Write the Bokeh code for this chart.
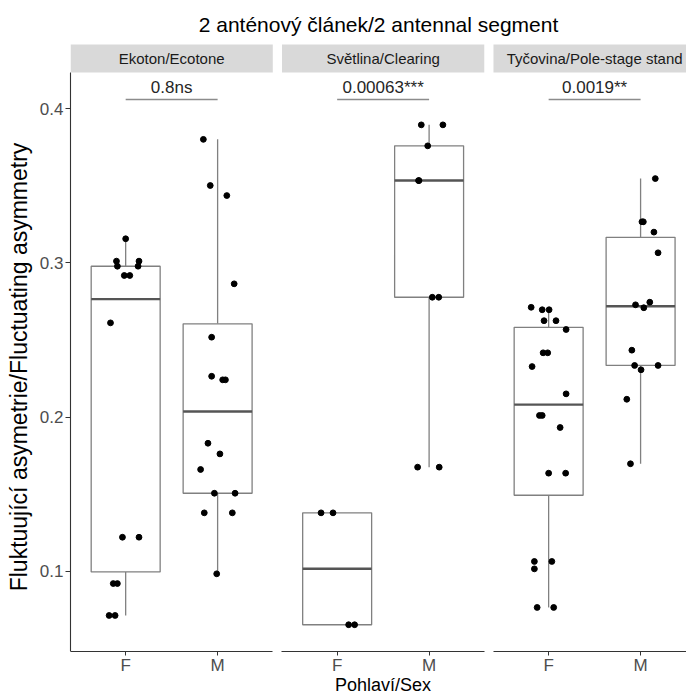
import numpy as np
from bokeh.plotting import figure
from bokeh.models import FixedTicker, LinearAxis, Range1d
from bokeh.embed import file_html
from bokeh.resources import INLINE
from bokeh.core.properties import value

# ---------------- data ----------------
title_text = "2 anténový článek/2 antennal segment"
habitats = ["Ekoton/Ecotone", "Světlina/Clearing", "Tyčovina/Pole-stage stand"]
sexes = ["F", "M"]
p_labels = ["0.8ns", "0.00063***", "0.0019**"]
y_ticks = [0.1, 0.2, 0.3, 0.4]
y_title = "Fluktuující asymetrie/Fluctuating asymmetry"
x_title = "Pohlaví/Sex"

eko_F = [0.3156, 0.3011, 0.3011, 0.2978, 0.2978, 0.2918, 0.2918, 0.2611,
         0.1222, 0.1222, 0.0922, 0.0922, 0.0715, 0.0715]
eko_F_jit = [0.00, -0.10, 0.145, -0.09, 0.135, -0.015, 0.045, -0.165,
             -0.035, 0.145, -0.135, -0.09, -0.18, -0.115]
eko_M = [0.380, 0.3501, 0.3436, 0.2864, 0.2518, 0.2265, 0.2242, 0.2242,
         0.1831, 0.1762, 0.1661, 0.1507, 0.1507, 0.1380, 0.1380, 0.0985]
eko_M_jit = [-0.155, -0.08, 0.10, 0.18, -0.065, -0.065, 0.055, 0.085,
             -0.105, 0.025, -0.185, -0.035, 0.19, -0.145, 0.16, -0.01]
sve_F = [0.138, 0.138, 0.0655, 0.0655]
sve_F_jit = [-0.175, -0.045, 0.125, 0.19]
sve_M = [0.3894, 0.3894, 0.3758, 0.3533, 0.3533, 0.2777, 0.2777, 0.1676, 0.1676]
sve_M_jit = [-0.085, 0.15, -0.015, -0.115, -0.11, 0.035, 0.105, -0.125, 0.11]
tyc_F = [0.2712, 0.2696, 0.2696, 0.2625, 0.2625, 0.2568, 0.2417, 0.2417,
         0.2328, 0.2151, 0.2011, 0.2011, 0.1933, 0.1637, 0.1637, 0.1065,
         0.1065, 0.1017, 0.0767, 0.0767]
tyc_F_jit = [-0.19, -0.07, 0.005, -0.05, 0.08, 0.19, -0.06, -0.01,
             -0.18, 0.19, -0.10, -0.07, 0.125, 0.0, 0.185, -0.155,
             0.035, -0.155, -0.125, 0.055]
tyc_M = [0.3546, 0.3266, 0.3266, 0.3199, 0.3065, 0.2728, 0.2745, 0.2709,
         0.2434, 0.2335, 0.2335, 0.2307, 0.2116, 0.1698]
tyc_M_jit = [0.16, 0.015, 0.03, 0.145, 0.19, -0.055, 0.10, 0.035,
             -0.095, -0.065, 0.19, 0.005, -0.15, -0.11]

groups = [[(eko_F, eko_F_jit), (eko_M, eko_M_jit)],
          [(sve_F, sve_F_jit), (sve_M, sve_M_jit)],
          [(tyc_F, tyc_F_jit), (tyc_M, tyc_M_jit)]]

# ---------------- layout / style ----------------
FONT = "Liberation Sans"
CAT = 10            # x units per category
PANEL_W = 22        # 2.2 categories
PANEL_STEP = 23     # panel + gap
FIRST = 6           # first category centre within a panel
BOX_HALF = 3.75
PX_PER_VAL = 1543.3
Y0_PIX = 108.0      # canvas y of 0.4
FRAME_TOP = 40
FIG_W, FIG_H = 686, 693
LEFT = 70


def yval(win_y):
    return 0.4 - (win_y - Y0_PIX) / PX_PER_VAL


y_bottom = yval(651)
y_top = yval(72)
strip_top = yval(44)
bracket_y = yval(99)
x_end = (FIG_W - LEFT) / 9.195

p = figure(width=FIG_W, height=FIG_H, output_backend="svg", toolbar_location=None,
           x_range=Range1d(0, x_end), y_range=Range1d(yval(FIG_H), yval(FRAME_TOP)),
           x_axis_location=None, y_axis_location="left",
           min_border_left=LEFT, min_border_right=0, min_border_top=FRAME_TOP,
           min_border_bottom=0)
p.grid.visible = False
p.outline_line_color = None
p.background_fill_color = "white"
p.border_fill_color = "white"

p.title.text = title_text
p.title.align = "center"
p.title.offset = 5
p.title.text_font = FONT
p.title.text_font_size = "21px"
p.title.text_font_style = "normal"
p.title.text_color = "black"
p.title.standoff = 10

# y axis
ya = p.yaxis[0]
ya.ticker = FixedTicker(ticks=y_ticks)
ya.bounds = (y_bottom, y_top)
ya.axis_line_color = "#333333"
ya.axis_line_width = 1.1
ya.major_tick_line_color = "#333333"
ya.major_tick_out = 5
ya.major_tick_in = 0
ya.minor_tick_line_color = None
ya.major_label_text_font = FONT
ya.major_label_text_font_size = "17px"
ya.major_label_text_color = "#4D4D4D"
ya.major_label_standoff = 2
ya.axis_label = y_title
ya.axis_label_text_font = FONT
ya.axis_label_text_font_size = "23px"
ya.axis_label_text_font_style = "normal"
ya.axis_label_text_color = "black"
ya.axis_label_standoff = 5

# strips
starts = [i * PANEL_STEP for i in range(len(habitats))]
p.quad(left=starts, right=[s + PANEL_W for s in starts], bottom=y_top, top=strip_top,
       fill_color="#D9D9D9", line_color=None)
p.text(x=[s + PANEL_W / 2 for s in starts], y=(y_top + strip_top) / 2, text=habitats,
       text_align="center", text_baseline="middle", text_font=value(FONT),
       text_font_size="15px", text_color="#1A1A1A")

# x axes, one per panel
for i, s in enumerate(starts):
    pos = [s + FIRST + CAT * j for j in range(len(sexes))]
    ax = LinearAxis(fixed_location=y_bottom, bounds=(s, s + PANEL_W),
                    ticker=FixedTicker(ticks=pos),
                    major_label_overrides={pp: lab for pp, lab in zip(pos, sexes)})
    ax.axis_line_color = "#333333"
    ax.axis_line_width = 1.1
    ax.major_tick_line_color = "#333333"
    ax.major_tick_out = 4
    ax.major_tick_in = 0
    ax.minor_tick_line_color = None
    ax.major_label_text_font = FONT
    ax.major_label_text_font_size = "17px"
    ax.major_label_text_color = "#4D4D4D"
    ax.major_label_standoff = 0
    if i == 1:
        ax.axis_label = x_title
        ax.axis_label_text_font = FONT
        ax.axis_label_text_font_size = "18px"
        ax.axis_label_text_font_style = "normal"
        ax.axis_label_text_color = "black"
        ax.axis_label_standoff = -3
    p.add_layout(ax, "below")

# boxes + points
for i, s in enumerate(starts):
    for j, (vals, jit) in enumerate(groups[i]):
        c = s + FIRST + CAT * j
        v = np.array(vals)
        q1, med, q3 = np.percentile(v, [25, 50, 75])
        iqr = q3 - q1
        lo = v[v >= q1 - 1.5 * iqr].min()
        hi = v[v <= q3 + 1.5 * iqr].max()
        p.segment(x0=[c, c], y0=[q3, q1], x1=[c, c], y1=[hi, lo],
                  line_color="#808080", line_width=1.3)
        p.quad(left=[c - BOX_HALF], right=[c + BOX_HALF], bottom=[q1], top=[q3],
               fill_color="white", line_color="#808080", line_width=1.3)
        p.segment(x0=[c - BOX_HALF], y0=[med], x1=[c + BOX_HALF], y1=[med],
                  line_color="#555555", line_width=2.4)
        xs = [c + CAT * d for d in jit]
        p.scatter(x=xs, y=vals, size=5.8, fill_color="black", line_color="black")

# comparison brackets
p.segment(x0=[s + FIRST for s in starts], x1=[s + FIRST + CAT for s in starts],
          y0=bracket_y, y1=bracket_y, line_color="#8C8C8C", line_width=1.3)
p.text(x=[s + FIRST + CAT / 2 for s in starts], y=bracket_y, text=p_labels,
       text_align="center", text_baseline="bottom", y_offset=-3,
       text_font=value(FONT), text_font_size="17px", text_color="#262626")

with open("out.html", "w", encoding="utf-8") as f:
    f.write(file_html(p, INLINE))
